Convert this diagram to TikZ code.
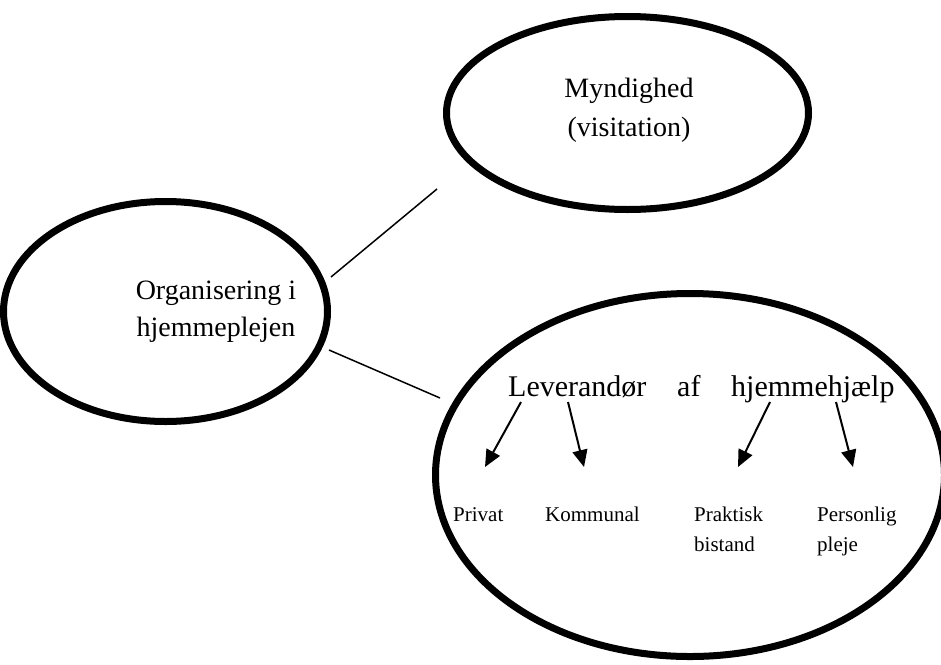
\documentclass[tikz,border=0pt]{standalone}
\usepackage{fontspec}
\setmainfont{Liberation Serif}
\usetikzlibrary{arrows.meta,shapes.geometric}
\begin{document}
\begin{tikzpicture}[x=1pt,y=-1pt,
  bubble/.style={draw=black,line width=7pt,ellipse,inner sep=0pt},
  bigtext/.style={font=\fontsize{28}{33}\selectfont,inner sep=0pt,anchor=base},
  headtext/.style={font=\fontsize{30}{34}\selectfont,inner sep=0pt,anchor=base west},
  smalltext/.style={font=\fontsize{21}{24}\selectfont,inner sep=0pt,anchor=base west},
  link/.style={line width=1.5pt},
  branch/.style={line width=2pt,-{Triangle[length=17pt,width=15pt]}}]
  % page frame
  \useasboundingbox (0,0) rectangle (941,664);
  \clip (0,0) rectangle (941,664);

  % the three ellipses
  \node[bubble,minimum width=324pt,minimum height=220pt] (org) at (165.5,311.5) {};
  \node[bubble,minimum width=362pt,minimum height=193pt] (myn) at (627.5,113) {};
  \node[bubble,minimum width=509pt,minimum height=363pt] (lev) at (690,475) {};

  % captions inside the ellipses
  \node[bigtext] (org1) at (216,299) {Organisering i};
  \node[bigtext] (org2) at (216,336) {hjemmeplejen};
  \node[bigtext] (myn1) at (629,97) {Myndighed};
  \node[bigtext] (myn2) at (629,136) {(visitation)};

  \node[headtext] (lev1) at (508,396) {Leverandør};
  \node[headtext] (lev2) at (677,396) {af};
  \node[headtext] (lev3) at (731,396) {hjemmehjælp};

  % the four kinds of provider
  \node[smalltext] (priv) at (453,521) {Privat};
  \node[smalltext] (komm) at (545,521) {Kommunal};
  \node[smalltext] (prak1) at (694,521) {Praktisk};
  \node[smalltext] (prak2) at (694,551) {bistand};
  \node[smalltext] (pers1) at (817,521) {Personlig};
  \node[smalltext] (pers2) at (817,551) {pleje};

  % ends of the plain connectors
  \coordinate (a1) at (331,277);
  \coordinate (a2) at (437,189);
  \coordinate (b1) at (329,350);
  \coordinate (b2) at (440,398);
  \draw[link] (a1) -- (a2);
  \draw[link] (b1) -- (b2);

  % arrows from the heading down to the labels
  \coordinate (t1) at (521,402); \coordinate (h1) at (485,467);
  \coordinate (t2) at (568,402); \coordinate (h2) at (584,467);
  \coordinate (t3) at (770,402); \coordinate (h3) at (738,467);
  \coordinate (t4) at (836,402); \coordinate (h4) at (853,467);
  \draw[branch] (t1) -- (h1);
  \draw[branch] (t2) -- (h2);
  \draw[branch] (t3) -- (h3);
  \draw[branch] (t4) -- (h4);
\end{tikzpicture}
\end{document}
